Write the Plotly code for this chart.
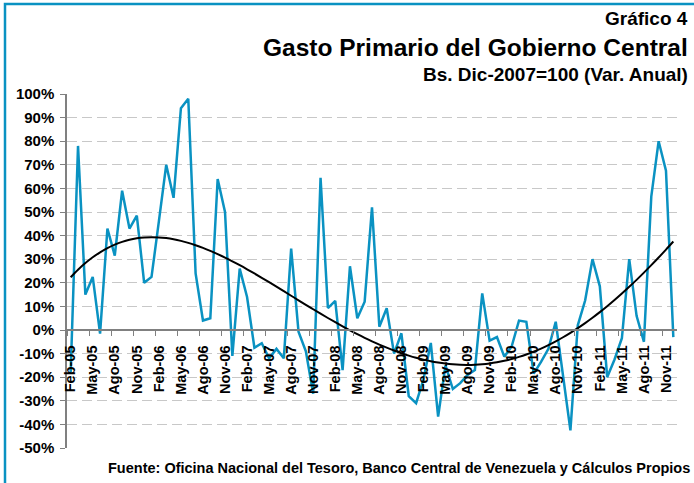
import numpy as np
import plotly.graph_objects as go

months_es = ["Ene", "Feb", "Mar", "Abr", "May", "Jun", "Jul", "Ago", "Sep", "Oct", "Nov", "Dic"]
periods = [f"{months_es[m]}-{str(y)[2:]}" for y in range(2005, 2012) for m in range(12)][1:]  # Feb-05 .. Dic-11

gasto_var = [
    -18, 78, 15, 22.5, -1.5, 43, 31.5, 59, 43, 48.5, 20, 22.5,
    46, 70, 56, 94, 98, 24, 4, 5, 64, 50, -11, 26,
    14, -7.5, -5.6, -12, -8, -12, 34.5, -0.7, -9, -27, 64.5, 9.3,
    12.3, -17, 27, 5, 12, 52, 1.4, 9.2, -10, -1.4, -28, -31,
    -21, -5.5, -36.7, -15, -25, -22.5, -19, -17, 15.5, -4.5, -3, -11.3,
    -7, 4, 3.5, -18.5, -13.5, -8, 3.5, -19, -42.5, 2, 12.5, 30,
    18.5, -20, -12.5, -3.5, 30, 6, -5, 56.5, 80, 67.5, -3,
]

y_ticks = list(range(-50, 101, 10))
trend_degree = 4  # polynomial trendline order

W, H = 694, 483
L, R, T, B = 67, 17, 94, 35
pw, ph = W - L - R, H - T - B

def px(xp):
    return (xp - L) / pw

def py(yp):
    return (H - B - yp) / ph

idx = np.arange(len(gasto_var))
trend = np.polyval(np.polyfit(idx, gasto_var, trend_degree), idx)

fig = go.Figure()
fig.add_trace(go.Scatter(x=idx, y=gasto_var, mode="lines",
                         line=dict(color="#0a92c2", width=2.5), hoverinfo="skip"))
fig.add_trace(go.Scatter(x=idx, y=trend, mode="lines",
                         line=dict(color="black", width=2, shape="spline"), hoverinfo="skip"))

label_idx = list(range(0, len(periods), 3))
FONT = "Liberation Sans, Arial"
fig.update_layout(
    width=W, height=H, margin=dict(l=L, r=R, t=T, b=B),
    paper_bgcolor="white", plot_bgcolor="white", showlegend=False,
    font=dict(family=FONT, color="black"),
    xaxis=dict(range=[-0.5, len(periods) - 0.5], anchor="free", position=50 / 150,
               tickmode="array", tickvals=label_idx, ticktext=[periods[i] for i in label_idx],
               tickangle=-90, ticks="", showgrid=False, zeroline=False, ticklabelstandoff=9,
               showline=True, linecolor="#808080", linewidth=1.5,
               tickfont=dict(size=14.5, family=FONT, color="black", weight="bold"),
               minor=dict(tickmode="array", tickvals=[i - 0.5 for i in range(0, len(periods) + 1, 3)],
                          ticks="outside", ticklen=5, tickcolor="#808080", tickwidth=1, showgrid=False)),
    yaxis=dict(range=[-50, 100], tickmode="array", tickvals=y_ticks,
               ticktext=[f"{v}%" for v in y_ticks], ticks="outside", ticklen=5, tickcolor="#808080",
               showline=True, linecolor="#808080", linewidth=1.5, zeroline=False, ticklabelstandoff=3,
               showgrid=True, gridcolor="#c8c8c8", griddash="10px,5px", gridwidth=1,
               tickfont=dict(size=15, family=FONT, color="black", weight="bold")),
)

fig.add_annotation(text="Gráfico 4", xref="paper", yref="paper", x=px(690), y=py(18),
                   xanchor="right", yanchor="middle", showarrow=False,
                   font=dict(size=19, family=FONT, weight="bold"))
fig.add_annotation(text="Gasto Primario del Gobierno Central", xref="paper", yref="paper",
                   x=px(690), y=py(47), xanchor="right", yanchor="middle", showarrow=False,
                   font=dict(size=24.5, family=FONT, weight="bold"))
fig.add_annotation(text="Bs. Dic-2007=100 (Var. Anual)", xref="paper", yref="paper",
                   x=px(690), y=py(74), xanchor="right", yanchor="middle", showarrow=False,
                   font=dict(size=19, family=FONT, weight="bold"))
fig.add_annotation(text="Fuente: Oficina Nacional del Tesoro, Banco Central de Venezuela y Cálculos Propios",
                   xref="paper", yref="paper", x=px(692), y=py(468), xanchor="right", yanchor="middle",
                   showarrow=False, font=dict(size=14.5, family=FONT, weight="bold"))
fig.add_shape(type="rect", xref="paper", yref="paper", x0=px(5), x1=px(720), y0=py(500), y1=py(4),
              line=dict(color="#0a92c2", width=2.5), fillcolor="rgba(0,0,0,0)", layer="below")

fig.write_html("out.html", config={"displayModeBar": False},
               post_script="document.body.style.margin='0';document.body.style.padding='0';")
